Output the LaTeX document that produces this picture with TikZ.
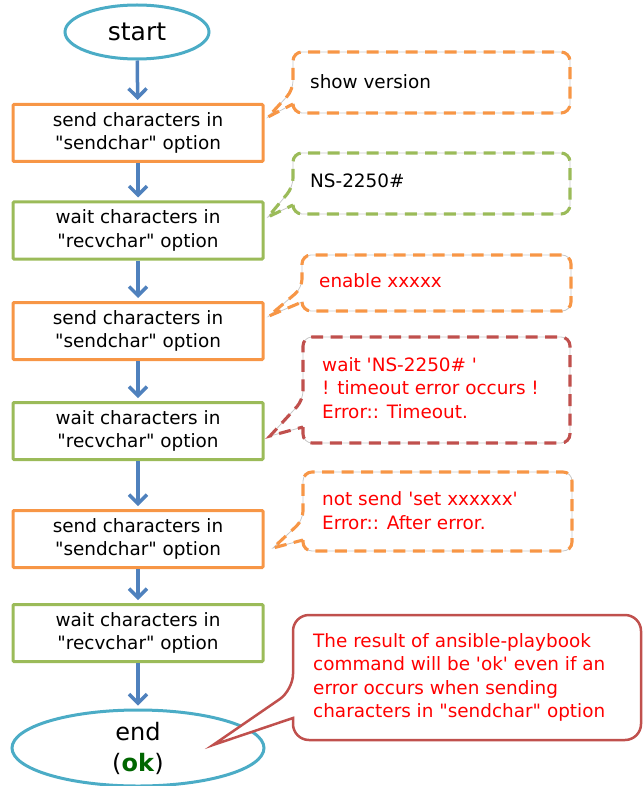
\documentclass[tikz,border=0pt]{standalone}
\usepackage{fontspec}
\setmainfont{DejaVu Sans}[Ligatures=TeXOff]
\usetikzlibrary{arrows.meta,shapes.geometric}
\definecolor{stepsend}{HTML}{F79646}
\definecolor{steprecv}{HTML}{9BBB59}
\definecolor{flowblue}{HTML}{4F81BD}
\definecolor{termcyan}{HTML}{4BACC6}
\definecolor{alertred}{HTML}{C0504D}
\definecolor{rimgray}{HTML}{C8C8C8}
\definecolor{okgreen}{HTML}{006600}

% speech bubble: style, left, top, right, bottom, pointer upper, pointer lower, tip x, tip y
\newcommand\bubble[9]{%
  \draw[bubblerim] (#2,#7) [rounded corners=9pt] -- (#2,#5) -- (#4,#5) -- (#4,#3) -- (#2,#3) -- (#2,#6) [sharp corners] -- (#8,#9) -- cycle;
  \draw[#1] (#2,#7) [rounded corners=9pt] -- (#2,#5) -- (#4,#5) -- (#4,#3) -- (#2,#3) -- (#2,#6) [sharp corners] -- (#8,#9) -- cycle;}

\begin{document}
\begin{tikzpicture}[x=1pt,y=-1pt,
  txt/.style={font=\fontsize{18.4}{23.5}\selectfont},
  terminal/.style={ellipse,draw=termcyan,line width=3pt,inner sep=0pt,txt},
  stepbox/.style={rectangle,draw,line width=3pt,minimum width=250pt,minimum height=57pt,
    align=center,inner sep=0pt,rounded corners=1pt,txt},
  sendbox/.style={stepbox,draw=stepsend},
  recvbox/.style={stepbox,draw=steprecv},
  flow/.style={draw=flowblue,line width=3.5pt,shorten >=3pt,
    -{Straight Barb[length=9pt,width=18pt,line width=3.5pt]}},
  bubblerim/.style={draw=rimgray,line width=0.8pt},
  dashrim/.style={line width=3.1pt,dash pattern=on 12pt off 7.5pt},
  note/.style={anchor=west,align=left,inner sep=0pt,txt}]
\useasboundingbox (0,0) rectangle (644,786);

% flow steps
\node[terminal,minimum width=144pt,minimum height=54pt,font=\fontsize{25}{29}\selectfont] (start) at (137,32) {start};
\node[sendbox] (s1) at (138,133) {send characters in\\"sendchar" option};
\node[recvbox] (r1) at (138,230.5) {wait characters in\\"recvchar" option};
\node[sendbox] (s2) at (138,331) {send characters in\\"sendchar" option};
\node[recvbox] (r2) at (138,431) {wait characters in\\"recvchar" option};
\node[sendbox] (s3) at (138,539) {send characters in\\"sendchar" option};
\node[recvbox] (r3) at (138,633) {wait characters in\\"recvchar" option};
\node[terminal,minimum width=252pt,minimum height=76pt,align=center,
  font=\fontsize{24}{31}\selectfont] (stop) at (138,748) {end\\(\textcolor{okgreen}{\textbf{ok}})};

\draw[flow] (start) -- (s1);
\draw[flow] (s1) -- (r1);
\draw[flow] (r1) -- (s2);
\draw[flow] (s2) -- (r2);
\draw[flow] (r2) -- (s3);
\draw[flow] (s3) -- (r3);
\draw[flow] (r3) -- (stop);

% dashed comment bubbles
\bubble{dashrim,draw=stepsend}{293}{52}{570}{113}{90}{104}{268}{117}
\bubble{dashrim,draw=steprecv}{293}{153}{570}{214}{187}{205}{268}{217}
\bubble{dashrim,draw=stepsend}{302}{255}{571}{311}{288}{302}{269}{316}
\bubble{dashrim,draw=alertred}{303}{337}{570}{443}{400}{427}{270}{436}
\bubble{dashrim,draw=stepsend}{303}{472}{572}{551}{520}{540}{273}{548}

\node[note] (c1) at (310,82) {show version};
\node[note] (c2) at (310,181) {NS-2250\#};
\node[note,text=red] (c3) at (319,281) {enable xxxxx};
\node[note,text=red] (c4) at (322,388) {wait 'NS-2250\# '\\! timeout error occurs !\\Error:: Timeout.};
\node[note,text=red] (c5) at (322,510.5) {not send 'set xxxxxx'\\Error:: After error.};

% result bubble
\draw[draw=alertred,fill=white,line width=2.5pt] (293,718) [rounded corners=16pt] -- (293,740) -- (641,740) -- (641,615) -- (293,615) -- (293,690) [sharp corners] -- (213,745) -- cycle;
\node[note,text=red] (c6) at (313,677.5) {The result of ansible-playbook\\command will be 'ok' even if an\\error occurs when sending\\characters in "sendchar" option};
\end{tikzpicture}
\end{document}
